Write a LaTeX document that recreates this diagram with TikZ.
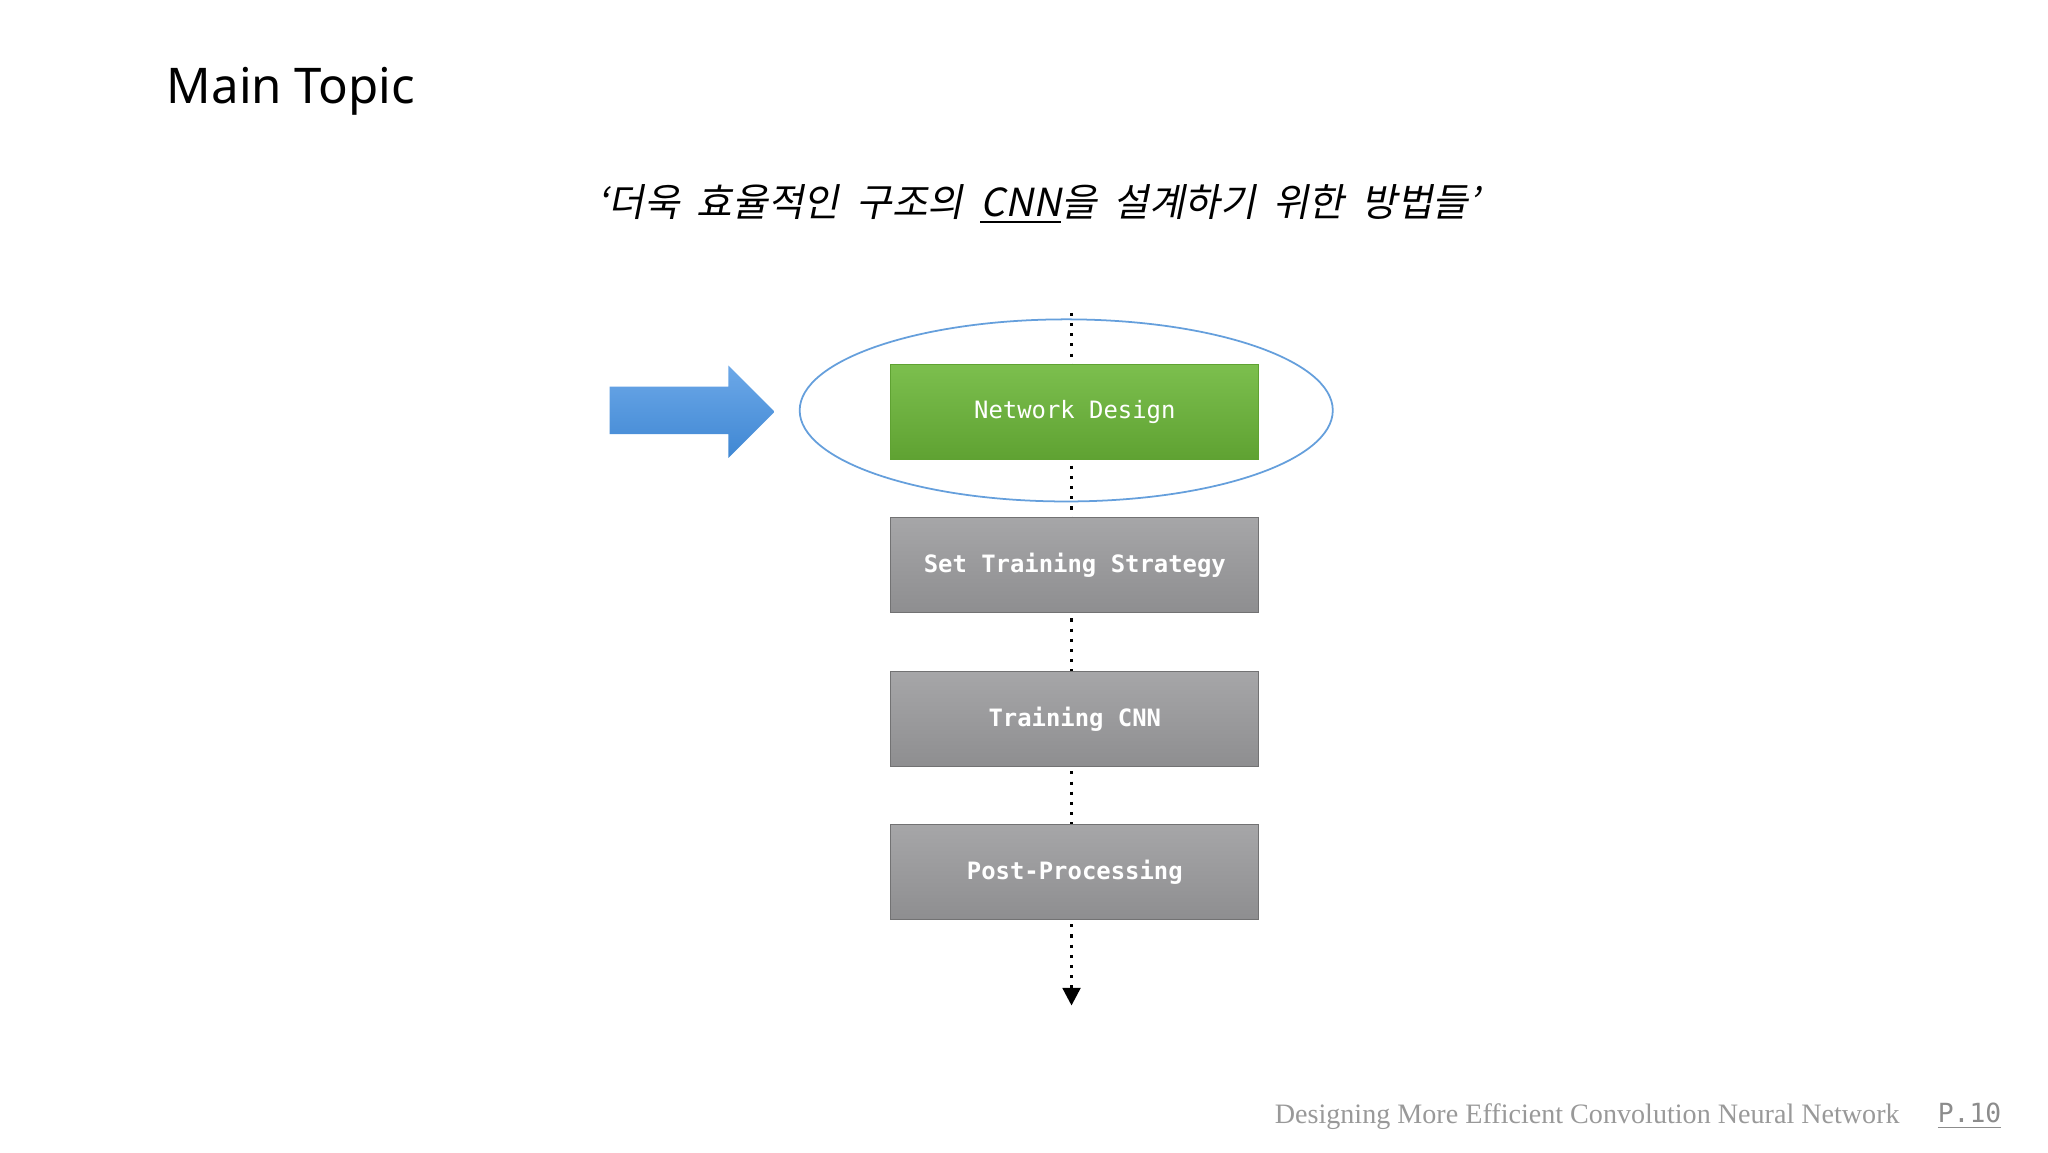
\documentclass[tikz,border=0pt]{standalone}
\usepackage{fontspec}
\setmainfont{Liberation Serif}
\newfontfamily\titlefont{Noto Sans}
\newfontfamily\krfont[FakeSlant=0.2]{Noto Sans CJK KR}
\newfontfamily\monofont{DejaVu Sans Mono}
\usetikzlibrary{shapes.geometric,arrows.meta}
\definecolor{grayA}{HTML}{A6A6A8}
\definecolor{grayB}{HTML}{8E8E90}
\definecolor{greenA}{HTML}{7CBF4E}
\definecolor{greenB}{HTML}{5FA232}
\definecolor{blueA}{HTML}{6CA8E8}
\definecolor{blueB}{HTML}{3F87D3}
\tikzset{
  stepbox/.style={minimum width=279*0.013196cm, minimum height=72*0.013196cm, inner sep=0pt,
    text=white, font=\monofont\fontsize{6.8}{8}\selectfont\bfseries, draw=grayB!80!black, line width=0.3pt,
    top color=grayA, bottom color=grayB},
  greenbox/.style={stepbox, top color=greenA, bottom color=greenB, draw=greenB, font=\monofont\fontsize{6.8}{8}\selectfont},
  dotline/.style={dotted, line width=0.9pt, black}
}
\begin{document}
\begin{tikzpicture}[x=0.013196cm,y=-0.013196cm]
\useasboundingbox[fill=white] (0,0) rectangle (1552,873);
\node[anchor=west, font=\titlefont\fontsize{14}{16}\selectfont] (title) at (117,69) {Main Topic};
\node[font=\krfont\fontsize{11}{13}\selectfont] (sub) at (787,155) {‘더욱\ \ 효율적인\ \ 구조의\ \ \underline{CNN}을\ \ 설계하기\ \ 위한\ \ 방법들’};
\coordinate (top) at (812,237);
\coordinate (bot) at (812,762);
\draw[dotline, -{Triangle[length=5pt,width=5pt]}] (top) -- (bot);
\node[draw=blueB!80, line width=0.5pt, ellipse, minimum width=404*0.013196cm, minimum height=138*0.013196cm, inner sep=0pt] (ell) at (808,311) {};
\node[greenbox] (n1) at (814.5,312) {Network Design};
\node[stepbox] (n2) at (814.5,428) {Set Training Strategy};
\node[stepbox] (n3) at (814.5,545) {Training CNN};
\node[stepbox] (n4) at (814.5,661) {Post-Processing};
\shade[top color=blueA, bottom color=blueB] (462,293) -- (552,293) -- (552,277) -- (587,312) -- (552,347) -- (552,329) -- (462,329) -- cycle;
\node[anchor=east, text=gray!80, font=\fontsize{8}{10}\selectfont] (foot) at (1449,846) {Designing More Efficient Convolution Neural Network};
\node[anchor=east, text=gray!90, font=\monofont\fontsize{7.5}{9}\selectfont] (pg) at (1526,846) {\underline{P.10}};
\end{tikzpicture}
\end{document}
